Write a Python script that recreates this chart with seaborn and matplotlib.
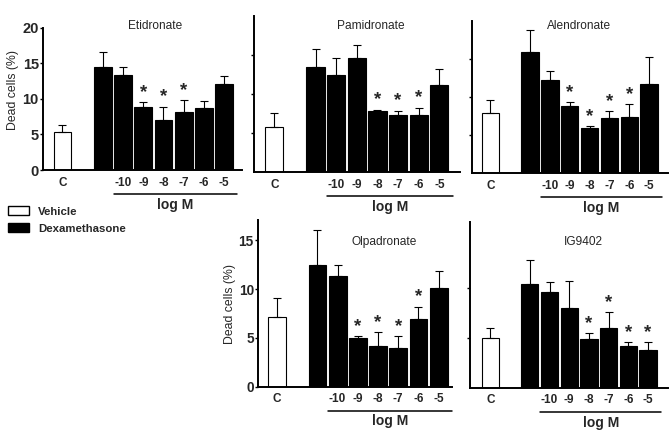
import numpy as np
import pandas as pd
import matplotlib
matplotlib.use("Agg")
import matplotlib.pyplot as plt
import seaborn as sns
from matplotlib.transforms import blended_transform_factory, offset_copy
from matplotlib.patches import Patch

# ---------------- data ----------------
categories = ["C", "Dex", "-10", "-9", "-8", "-7", "-6", "-5"]
groups = ["Vehicle"] + ["Dexamethasone"] * 7
order = ["C", "gap", "Dex", "-10", "-9", "-8", "-7", "-6", "-5"]
tick_labels = ["C", "", "", "-10", "-9", "-8", "-7", "-6", "-5"]

eti_mean = [5.3, 14.4, 13.3, 8.8, 7.0, 8.2, 8.7, 12.1]
eti_err = [1.0, 2.2, 1.1, 0.7, 1.9, 1.6, 1.0, 1.1]
eti_sig = [0, 0, 0, 1, 1, 1, 0, 0]

pam_mean = [5.85, 13.5, 12.5, 14.7, 7.9, 7.4, 7.3, 11.2]
pam_err = [1.75, 2.3, 2.1, 1.6, 0.15, 0.5, 1.0, 2.0]
pam_sig = [0, 0, 0, 0, 1, 1, 1, 0]

ale_mean = [8.0, 16.0, 12.3, 8.9, 6.0, 7.3, 7.4, 11.8]
ale_err = [1.6, 2.9, 1.2, 0.5, 0.2, 0.9, 1.7, 3.5]
ale_sig = [0, 0, 0, 1, 1, 1, 1, 0]

olp_mean = [7.1, 12.5, 11.4, 4.95, 4.2, 4.0, 6.9, 10.15]
olp_err = [2.0, 3.6, 1.1, 0.25, 1.4, 1.2, 1.3, 1.7]
olp_sig = [0, 0, 0, 1, 1, 1, 1, 0]

ig_mean = [5.0, 10.4, 9.6, 8.0, 4.9, 5.97, 4.2, 3.8]
ig_err = [0.97, 2.4, 1.0, 2.7, 0.6, 1.6, 0.4, 0.8]
ig_sig = [0, 0, 0, 0, 1, 1, 1, 1]

# ---------------- style ----------------
sns.set_style("ticks")
plt.rcParams["font.family"] = ["Liberation Sans", "DejaVu Sans"]

W, H = 671, 434
fig = plt.figure(figsize=(W / 100, H / 100), dpi=100)

panels = [
    dict(name="Etidronate", mean=eti_mean, err=eti_err, sig=eti_sig,
         l=43, r=242, y0=170, yt=27.5, ymax=20, xlim=(-0.965, 8.886),
         yticks=[0, 5, 10, 15, 20], ylab=True, ysize=10.5, tpos=(155.5, 26), pad=5),
    dict(name="Pamidronate", mean=pam_mean, err=pam_err, sig=pam_sig,
         l=254, r=460, y0=172.3, yt=16.3, ymax=20, xlim=(-0.984, 9.0),
         yticks=[5, 10, 15], ylab=False, ysize=10.5, tpos=(371, 26), pad=5),
    dict(name="Alendronate", mean=ale_mean, err=ale_err, sig=ale_sig,
         l=471.7, r=668, y0=173.3, yt=21.3, ymax=20, xlim=(-0.944, 8.955),
         yticks=[5, 10, 15], ylab=False, ysize=10.5, tpos=(579.5, 26), pad=5),
    dict(name="Olpadronate", mean=olp_mean, err=olp_err, sig=olp_sig,
         l=258, r=452, y0=386.5, yt=220, ymax=17.1, xlim=(-0.94, 8.66),
         yticks=[0, 5, 10, 15], ylab=True, ysize=9.8, tpos=(384, 241.7), pad=4.5),
    dict(name="IG9402", mean=ig_mean, err=ig_err, sig=ig_sig,
         l=470, r=668, y0=387.7, yt=221.7, ymax=16.6, xlim=(-1.04, 9.02),
         yticks=[5, 10], ylab=False, ysize=9.8, tpos=(583, 241.7), pad=4.5),
]

palette = {"Vehicle": "white", "Dexamethasone": "black"}

for p in panels:
    ax = fig.add_axes([p["l"] / W, 1 - p["y0"] / H,
                       (p["r"] - p["l"]) / W, (p["y0"] - p["yt"]) / H])
    df = pd.DataFrame({"cat": categories, "value": p["mean"], "group": groups})
    sns.barplot(data=df, x="cat", y="value", hue="group", order=order,
                hue_order=["Vehicle", "Dexamethasone"], palette=palette,
                dodge=False, width=0.88, edgecolor="black", linewidth=0.8,
                errorbar=None, legend=False, ax=ax)
    xs = [order.index(c) for c in categories]
    mean = np.array(p["mean"])
    err = np.array(p["err"])
    ax.errorbar(xs, mean, yerr=[np.zeros_like(err), err], fmt="none",
                ecolor="black", elinewidth=0.8, capsize=2.6, capthick=0.8)
    for x, m, e, s in zip(xs, mean, err, p["sig"]):
        if s:
            ax.annotate("*", (x, m + e), xytext=(0, 0.8), textcoords="offset points",
                        ha="center", va="bottom", fontsize=13.5, fontweight="bold")
    ax.set_xlim(*p["xlim"])
    ax.set_ylim(0, p["ymax"])
    ax.set_xticks(range(len(order)))
    ax.set_xticklabels(tick_labels)
    ax.set_yticks(p["yticks"])
    if not p["ylab"]:
        ax.set_yticklabels([])
    ax.set_xlabel("")
    ax.set_ylabel("")
    sns.despine(ax=ax)
    for sp in ("left", "bottom"):
        ax.spines[sp].set_linewidth(1.4)
        ax.spines[sp].set_color("black")
    ax.tick_params(axis="x", length=0, pad=p["pad"], labelsize=8.5)
    ax.tick_params(axis="y", length=2.2, width=1, pad=0.8, labelsize=p["ysize"],
                   direction="out", color="black")
    for lbl in ax.get_xticklabels() + ax.get_yticklabels():
        lbl.set_fontweight("bold")

    trans = blended_transform_factory(ax.transData, ax.transAxes)
    ax.plot([3 - 0.47, 8 + 0.65], [0, 0], color="black", lw=1.1, clip_on=False,
            transform=offset_copy(trans, fig=fig, y=-24, units="dots"))
    ax.text(5.6, 0, "log M", ha="center", va="center", fontsize=10, fontweight="bold",
            transform=offset_copy(trans, fig=fig, y=-35, units="dots"))

    fig.text(p["tpos"][0] / W, 1 - p["tpos"][1] / H, p["name"], ha="center",
             va="center", fontsize=8.6)

fig.text(13 / W, 1 - 90 / H, "Dead cells (%)", rotation=90, ha="center",
         va="center", fontsize=8.8)
fig.text(229.5 / W, 1 - 304 / H, "Dead cells (%)", rotation=90, ha="center",
         va="center", fontsize=8.8)

handles = [Patch(facecolor="white", edgecolor="black", linewidth=1, label="Vehicle"),
           Patch(facecolor="black", edgecolor="black", linewidth=1, label="Dexamethasone")]
fig.legend(handles=handles, loc="upper left", bbox_to_anchor=(8 / W, 1 - 206 / H),
           frameon=False, borderpad=0, borderaxespad=0, handlelength=1.85,
           handleheight=0.9, handletextpad=0.8, labelspacing=0.55,
           prop=dict(size=8.2, weight="bold"))

fig.savefig("out.png", dpi=100)
